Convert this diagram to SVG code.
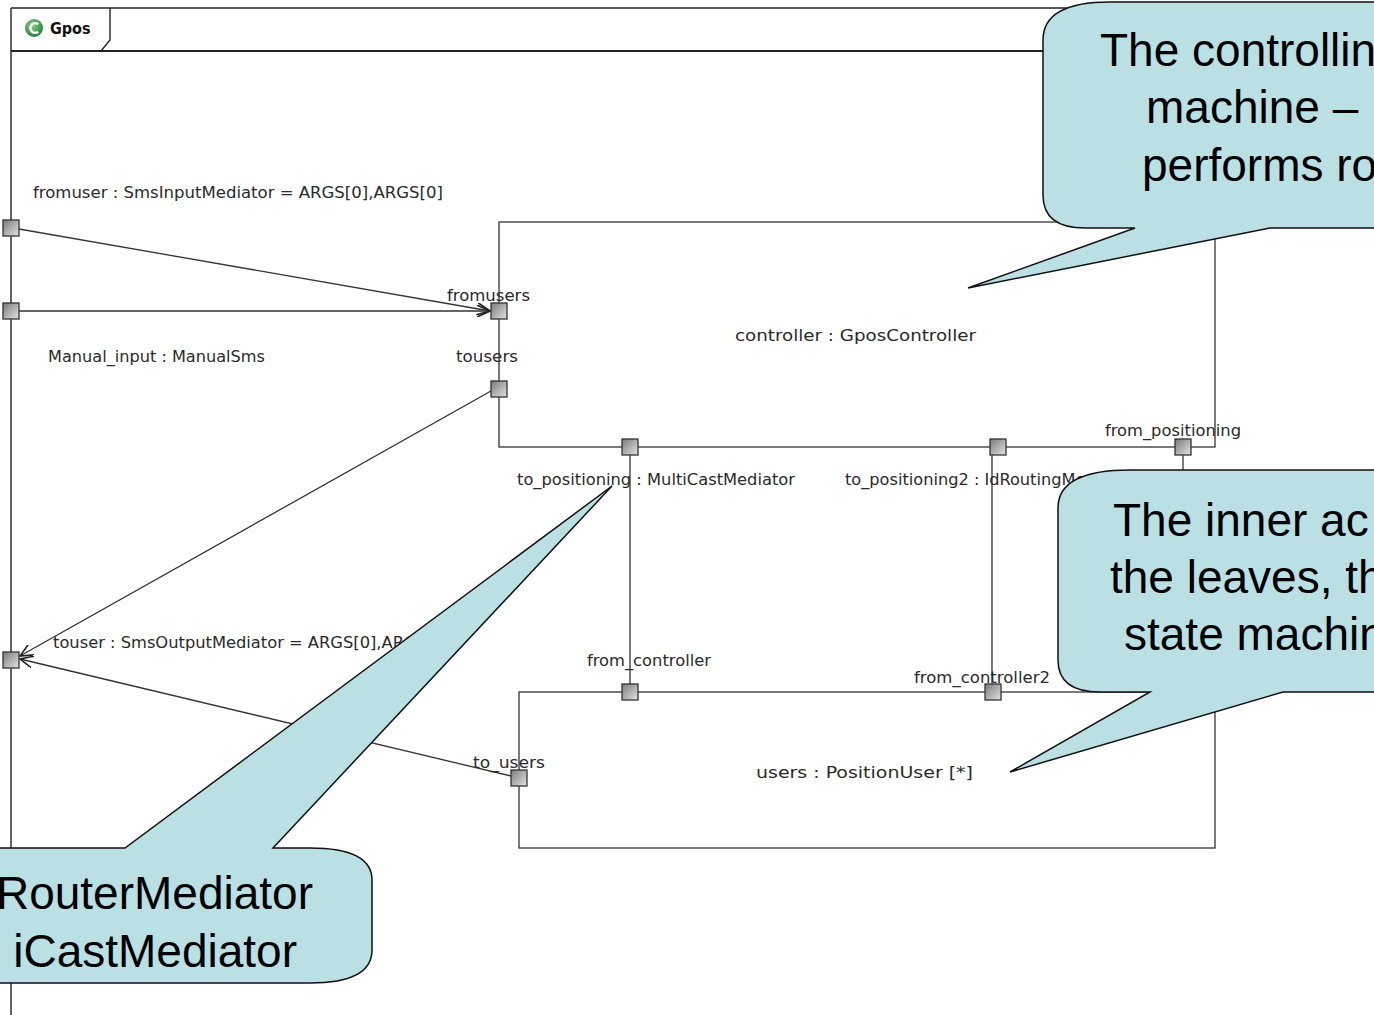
<svg xmlns="http://www.w3.org/2000/svg" width="1374" height="1015" viewBox="0 0 1374 1015">
  <style>
    .frame { fill: none; stroke: #222; stroke-width: 1.4; }
    .box { fill: none; stroke: #333; stroke-width: 1.3; }
    .port { fill: url(#portGrad); stroke: #333; stroke-width: 1.3; }
    .conn { fill: none; stroke: #333; stroke-width: 1.3; }
    .lbl { font-family: "DejaVu Sans Condensed", "DejaVu Sans", "Liberation Sans", sans-serif; font-size: 15px; fill: #2a2a2a; }
    .note { fill: #bbe0e3; stroke: #111; stroke-width: 1.5; }
    .noteText { font-family: "Liberation Sans", Arial, sans-serif; font-size: 46px; fill: #000; }
  </style>
  <defs>
    <linearGradient id="portGrad" x1="0" y1="0" x2="1" y2="1">
      <stop offset="0" stop-color="#7a7a7a"/>
      <stop offset="1" stop-color="#e4e4e4"/>
    </linearGradient>
    <radialGradient id="iconGrad" cx="0.4" cy="0.35" r="0.7">
      <stop offset="0" stop-color="#8fd08f"/>
      <stop offset="1" stop-color="#1e7a2e"/>
    </radialGradient>
    <marker id="openArrow" viewBox="0 0 14 12" refX="13" refY="6" markerWidth="14" markerHeight="12" markerUnits="userSpaceOnUse" orient="auto">
      <path d="M0,0 L13,6 L0,12" fill="none" stroke="#222" stroke-width="1.6"/>
    </marker>
  </defs>

  <rect x="0" y="0" width="1374" height="1015" fill="#ffffff"/>

  <!-- Gpos frame with its name tab -->
  <g id="frame-gpos">
    <line class="frame" x1="11" y1="8" x2="1374" y2="8"/>
    <line class="frame" x1="11" y1="8" x2="11" y2="1015"/>
    <line x1="11" y1="51" x2="1374" y2="51" stroke="#222" stroke-width="2"/>
    <path class="frame" d="M110,8 L110,40 L101,51"/>
    <circle cx="34" cy="28" r="9" fill="url(#iconGrad)"/>
    <path d="M38.3,24.3 A4.8,4.8 0 1 0 38.3,31.7" fill="none" stroke="#fff" stroke-width="2.5"/>
    <text x="50" y="34" font-family="'DejaVu Sans Condensed', 'DejaVu Sans', sans-serif" font-size="16" font-weight="bold" fill="#111">Gpos</text>
  </g>

  <!-- Connectors -->
  <g id="connectors">
    <line class="conn" x1="19" y1="229" x2="490" y2="311" marker-end="url(#openArrow)"/>
    <line class="conn" x1="19" y1="311" x2="490" y2="311" marker-end="url(#openArrow)"/>
    <line class="conn" x1="491" y1="391" x2="20" y2="656" stroke-width="1" marker-end="url(#openArrow)"/>
    <line class="conn" x1="511" y1="776" x2="20" y2="659" marker-end="url(#openArrow)"/>
    <line class="conn" x1="630" y1="455" x2="630" y2="684"/>
    <line class="conn" x1="992" y1="455" x2="992" y2="684"/>
    <line class="conn" x1="1183" y1="455" x2="1183" y2="480"/>
  </g>

  <!-- Left boundary ports -->
  <g id="port-fromuser">
    <rect class="port" x="3" y="220" width="16" height="16"/>
    <text class="lbl" x="33" y="198" textLength="410" lengthAdjust="spacingAndGlyphs">fromuser : SmsInputMediator = ARGS[0],ARGS[0]</text>
  </g>
  <g id="port-manual-input">
    <rect class="port" x="3" y="303" width="16" height="16"/>
    <text class="lbl" x="48" y="362" textLength="217" lengthAdjust="spacingAndGlyphs">Manual_input : ManualSms</text>
  </g>
  <g id="port-touser">
    <rect class="port" x="3" y="652" width="16" height="16"/>
    <text class="lbl" x="53" y="648" textLength="397" lengthAdjust="spacingAndGlyphs">touser : SmsOutputMediator = ARGS[0],ARGS[0]</text>
  </g>

  <!-- controller part -->
  <g id="node-controller">
    <rect class="box" x="499" y="222" width="716" height="225"/>
    <text class="lbl" x="735" y="341" textLength="241" lengthAdjust="spacingAndGlyphs">controller : GposController</text>
    <rect class="port" x="491" y="303" width="16" height="16"/>
    <text class="lbl" x="447" y="301" textLength="83" lengthAdjust="spacingAndGlyphs">fromusers</text>
    <rect class="port" x="491" y="381" width="16" height="16"/>
    <text class="lbl" x="456" y="362" textLength="62" lengthAdjust="spacingAndGlyphs">tousers</text>
    <rect class="port" x="622" y="439" width="16" height="16"/>
    <text class="lbl" x="517" y="485" textLength="278" lengthAdjust="spacingAndGlyphs">to_positioning : MultiCastMediator</text>
    <rect class="port" x="990" y="439" width="16" height="16"/>
    <text class="lbl" x="845" y="485" textLength="288" lengthAdjust="spacingAndGlyphs">to_positioning2 : IdRoutingMediator</text>
    <rect class="port" x="1175" y="439" width="16" height="16"/>
    <text class="lbl" x="1105" y="436" textLength="136" lengthAdjust="spacingAndGlyphs">from_positioning</text>
  </g>

  <!-- users part -->
  <g id="node-users">
    <rect class="box" x="519" y="692" width="696" height="156"/>
    <text class="lbl" x="756" y="778" textLength="217" lengthAdjust="spacingAndGlyphs">users : PositionUser [*]</text>
    <rect class="port" x="622" y="684" width="16" height="16"/>
    <text class="lbl" x="587" y="666" textLength="124" lengthAdjust="spacingAndGlyphs">from_controller</text>
    <rect class="port" x="985" y="684" width="16" height="16"/>
    <text class="lbl" x="914" y="683" textLength="136" lengthAdjust="spacingAndGlyphs">from_controller2</text>
    <rect class="port" x="511" y="770" width="16" height="16"/>
    <text class="lbl" x="473" y="768" textLength="72" lengthAdjust="spacingAndGlyphs">to_users</text>
  </g>

  <!-- Callout notes (they run past the right and left edges) -->
  <g id="note-controller">
    <path class="note" d="M1110,2 L1380,2 L1380,228 L1270,228 L968,288 L1135,228 L1085,228 Q1043,228 1043,195 L1043,40 Q1043,2 1110,2 Z"/>
    <text class="noteText" x="1100" y="66">The controlling</text>
    <text class="noteText" x="1146" y="123">machine –</text>
    <text class="noteText" x="1142" y="181">performs ro</text>
  </g>
  <g id="note-users">
    <path class="note" d="M1130,470 L1380,470 L1380,692 L1283,692 L1010,772 L1150,692 L1100,692 Q1058,692 1058,660 L1058,508 Q1058,470 1130,470 Z"/>
    <text class="noteText" x="1113" y="536">The inner ac</text>
    <text class="noteText" x="1110" y="593">the leaves, th</text>
    <text class="noteText" x="1124" y="650">state machin</text>
  </g>
  <g id="note-mediators">
    <path class="note" d="M-10,848 L125,848 L612,486 L273,848 L310,848 Q372,848 372,880 L372,950 Q372,983 310,983 L-10,983 Z"/>
    <text class="noteText" x="313" y="909" text-anchor="end">RouterMediator</text>
    <text class="noteText" x="297" y="967" text-anchor="end">iCastMediator</text>
  </g>
</svg>
